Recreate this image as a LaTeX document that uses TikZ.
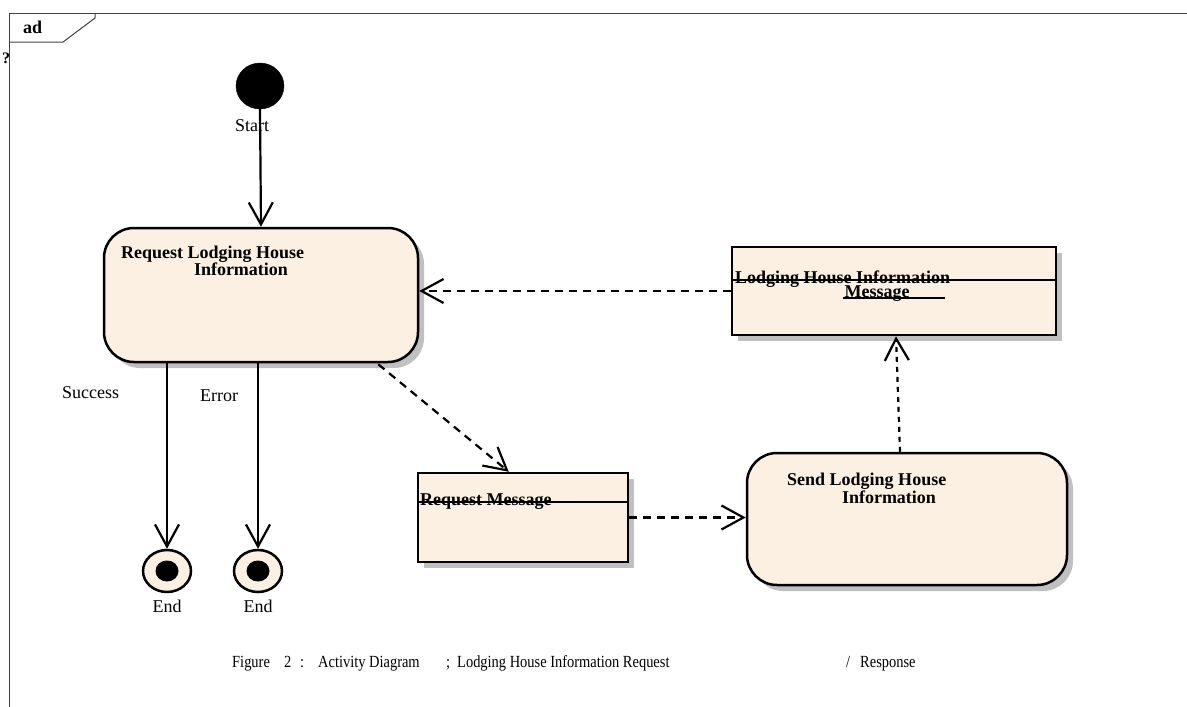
\documentclass[tikz,border=0pt]{standalone}
\usepackage{fontspec}
\setmainfont{Liberation Serif}
\newfontfamily\capfont[FakeStretch=0.85]{Liberation Serif}
\usetikzlibrary{arrows.meta,shapes.geometric,shadows,calc}
\definecolor{cream}{RGB}{251,240,225}
\definecolor{shade}{RGB}{192,192,192}
\begin{document}
\begin{tikzpicture}[x=1pt,y=-1pt,
  act/.style={draw, line width=2.5pt, fill=cream, rounded corners=30pt, inner sep=0pt,
    drop shadow={shadow xshift=6pt,shadow yshift=-6pt,opacity=1,fill=shade}},
  obj/.style={draw, line width=2.5pt, fill=cream, inner sep=0pt,
    drop shadow={shadow xshift=6pt,shadow yshift=-6pt,opacity=1,fill=shade}},
  flow/.style={line width=2.2pt, -{Straight Barb[length=22pt,width=24pt]}},
  objflow/.style={flow, dash pattern=on 8pt off 6pt},
  dotflow/.style={flow, dash pattern=on 5pt off 5pt},
  lbl/.style={inner sep=0pt, font=\fontsize{18}{20}\selectfont},
  blbl/.style={inner sep=0pt, font=\fontsize{18}{20}\selectfont\bfseries},
  sep/.style={line width=2.5pt},
  frame/.style={line width=1pt, black!75}]
\useasboundingbox (0,0) rectangle (1187,707);

% frame
\draw[frame] (9,707) -- (9,13) -- (1187,13);
\draw[frame] (9,42) -- (63,42) -- (95,18) -- (95,13);
\node[blbl, anchor=base west] (ad) at (23,33) {ad};
\node[inner sep=0pt, font=\fontsize{16}{18}\selectfont\bfseries, anchor=base west] (q) at (2,63) {?};

% start
\node[ellipse, draw, fill=black, minimum width=48pt, minimum height=46pt, inner sep=0pt] (start) at (260,86) {};
\node[lbl, anchor=base] (startl) at (252,131) {Start};

% request activity
\node[act, minimum width=314pt, minimum height=134pt] (req) at (261,295) {};
\node[blbl, anchor=base west] (reqt1) at (121,258) {Request Lodging House};
\node[blbl, anchor=base] (reqt2) at (241,275) {Information};

% lodging house information message
\node[obj, minimum width=324pt, minimum height=88pt] (lhim) at (894,291) {};
\node[blbl, anchor=base west] (lhimt1) at (735,283) {Lodging House Information};
\node[blbl, anchor=base] (lhimt2) at (877,297) {Message};
\draw[sep] ($(lhim.north west)+(0,34)$) -- ($(lhim.north east)+(0,34)$);
\draw[sep] (843,298) -- (945,298);

% request message
\node[obj, minimum width=210pt, minimum height=89pt] (reqmsg) at (523,517.5) {};
\node[blbl, anchor=base west] (reqmsgt) at (420,505) {Request Message};
\draw[sep] ($(reqmsg.north west)+(0,30)$) -- ($(reqmsg.north east)+(0,30)$);

% send activity
\node[act, minimum width=320pt, minimum height=132pt] (send) at (907,519) {};
\node[blbl, anchor=base west] (sendt1) at (787,485) {Send Lodging House};
\node[blbl, anchor=base] (sendt2) at (889,503) {Information};

% end nodes
\node[ellipse, draw, line width=2.5pt, fill=cream, minimum width=48pt, minimum height=42pt, inner sep=0pt] (end1) at (167,571) {};
\node[ellipse, fill=black, minimum width=23pt, minimum height=21pt, inner sep=0pt] (end1c) at (end1) {};
\node[ellipse, draw, line width=2.5pt, fill=cream, minimum width=48pt, minimum height=42pt, inner sep=0pt] (end2) at (258,571) {};
\node[ellipse, fill=black, minimum width=23pt, minimum height=21pt, inner sep=0pt] (end2c) at (end2) {};
\node[lbl, anchor=base] (end1l) at (167,612) {End};
\node[lbl, anchor=base] (end2l) at (258,612) {End};

% labels
\node[lbl, anchor=base west] (succ) at (62,398) {Success};
\node[lbl, anchor=base west] (err) at (200,401) {Error};

% connectors
\draw[flow] (start.south) -- (req.north);
\draw[flow] (req.south -| end1.north) -- (end1.north);
\draw[flow] (req.south -| end2.north) -- (end2.north);
\draw[objflow] (lhim.west) -- (lhim.west -| req.east);
\draw[objflow] ($(req.south east)+(-41,1)$) -- ($(reqmsg.north west)+(92,0)$);
\draw[objflow] (reqmsg.east) -- (reqmsg.east -| send.west);
\draw[dotflow] ($(send.north)+(-7,0)$) -- ($(lhim.south)+(2,0)$);

% caption
\node[inner sep=0pt, anchor=base west, font=\capfont\fontsize{17}{19}\selectfont] (cap) at (232,667)
  {\rlap{Figure}\hspace*{52pt}\rlap{2}\hspace*{16pt}\rlap{:}\hspace*{18pt}\rlap{Activity Diagram}\hspace*{128pt}\rlap{;}\hspace*{11pt}\rlap{Lodging House Information Request}\hspace*{389pt}\rlap{/}\hspace*{14pt}Response};
\end{tikzpicture}
\end{document}
